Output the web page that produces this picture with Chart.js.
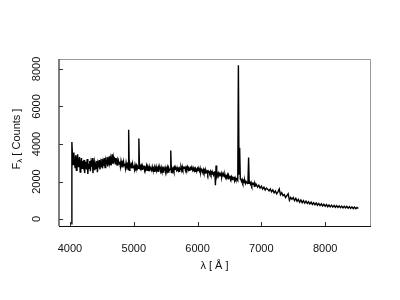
<!DOCTYPE html>
<html>
<head>
<meta charset="utf-8">
<script src="https://cdn.jsdelivr.net/npm/chart.js@4"></script>
<style>
    body { margin: 0; background: #fff; }
    #wrap { width: 400px; height: 300px; }
</style>
</head>
<body>
<div id="wrap"><canvas id="spectrum" width="400" height="300"></canvas></div>
<script>
// Spectrum data (wavelength in Angstrom, flux in counts)
const lambdaValues = [
    4020, 4030, 4040, 4050, 4060, 4070, 4080, 4090, 4100, 4110,
    4120, 4130, 4140, 4150, 4160, 4170, 4180, 4190, 4200, 4210,
    4220, 4230, 4240, 4250, 4260, 4270, 4280, 4290, 4300, 4310,
    4320, 4330, 4340, 4350, 4360, 4370, 4380, 4390, 4400, 4410,
    4420, 4430, 4440, 4450, 4460, 4470, 4480, 4490, 4500, 4510,
    4520, 4530, 4540, 4550, 4560, 4570, 4580, 4590, 4600, 4610,
    4620, 4630, 4640, 4650, 4660, 4670, 4680, 4690, 4700, 4710,
    4720, 4730, 4740, 4750, 4760, 4770, 4780, 4790, 4800, 4810,
    4820, 4830, 4840, 4850, 4860, 4870, 4880, 4890, 4900, 4910,
    4920, 4930, 4940, 4950, 4960, 4970, 4980, 4990, 5000, 5010,
    5020, 5030, 5040, 5050, 5060, 5070, 5080, 5090, 5100, 5110,
    5120, 5130, 5140, 5150, 5160, 5170, 5180, 5190, 5200, 5210,
    5220, 5230, 5240, 5250, 5260, 5270, 5280, 5290, 5300, 5310,
    5320, 5330, 5340, 5350, 5360, 5370, 5380, 5390, 5400, 5410,
    5420, 5430, 5440, 5450, 5460, 5470, 5480, 5490, 5500, 5510,
    5520, 5530, 5540, 5550, 5560, 5570, 5580, 5590, 5600, 5610,
    5620, 5630, 5640, 5650, 5660, 5670, 5680, 5690, 5700, 5710,
    5720, 5730, 5740, 5750, 5760, 5770, 5780, 5790, 5800, 5810,
    5820, 5830, 5840, 5850, 5860, 5870, 5880, 5890, 5900, 5910,
    5920, 5930, 5940, 5950, 5960, 5970, 5980, 5990, 6000, 6010,
    6020, 6030, 6040, 6050, 6060, 6070, 6080, 6090, 6100, 6110,
    6120, 6130, 6140, 6150, 6160, 6170, 6180, 6190, 6200, 6210,
    6220, 6230, 6240, 6250, 6260, 6270, 6280, 6290, 6300, 6310,
    6320, 6330, 6340, 6350, 6360, 6370, 6380, 6390, 6400, 6410,
    6420, 6430, 6440, 6450, 6460, 6470, 6480, 6490, 6500, 6510,
    6520, 6530, 6540, 6550, 6560, 6570, 6580, 6590, 6600, 6610,
    6620, 6630, 6640, 6650, 6660, 6670, 6680, 6690, 6700, 6710,
    6720, 6730, 6740, 6750, 6760, 6770, 6780, 6790, 6800, 6810,
    6820, 6830, 6840, 6850, 6860, 6870, 6880, 6890, 6900, 6910,
    6920, 6940, 6960, 6980, 7000, 7020, 7040, 7060, 7080, 7100,
    7120, 7140, 7160, 7180, 7200, 7220, 7240, 7260, 7280, 7300,
    7320, 7340, 7360, 7380, 7400, 7420, 7440, 7460, 7480, 7500,
    7520, 7540, 7560, 7580, 7600, 7620, 7640, 7660, 7680, 7700,
    7720, 7740, 7760, 7780, 7800, 7820, 7840, 7860, 7880, 7900,
    7920, 7940, 7960, 7980, 8000, 8020, 8040, 8060, 8080, 8100,
    8120, 8140, 8160, 8180, 8200, 8220, 8240, 8260, 8280, 8300,
    8320, 8340, 8360, 8380, 8400, 8420, 8440, 8460, 8480, 8500,
    8520
];

const fluxValues = [
    -250, 4100, 3300, 2900, 3550, 3100, 2750, 3400, 2600, 3200,
    3450, 2800, 3000, 3300, 2500, 2950, 3250, 2700, 3100, 2850,
    3150, 2450, 2900, 3050, 2650, 3200, 2400, 2950, 2700, 3100,
    2550, 3000, 2800, 3250, 2450, 2850, 3050, 2600, 2900, 2700,
    3100, 2500, 2950, 2750, 3150, 2650, 3000, 2800, 3200, 2700,
    3050, 2850, 3250, 2750, 3100, 2950, 3300, 2800, 3150, 3000,
    3350, 2900, 3200, 3050, 3450, 2950, 3300, 3100, 3200, 2950,
    3250, 3000, 3150, 2850, 3100, 2950, 3050, 2800, 3100, 2900,
    3000, 2750, 3050, 2850, 2950, 2700, 3000, 2800, 2900, 2650,
    4760, 2600, 2950, 2800, 2900, 2700, 2950, 2750, 2850, 2650,
    2900, 2750, 2850, 2600, 2800, 2700, 4290, 2650, 2850, 2750,
    2850, 2650, 2800, 2700, 2850, 2600, 2750, 2700, 2850, 2600,
    2750, 2650, 2800, 2550, 2750, 2700, 2600, 2800, 2650, 2700,
    2550, 2750, 2650, 2800, 2600, 2700, 2550, 2750, 2650, 2700,
    2550, 2750, 2600, 2700, 2500, 2700, 2650, 2750, 2550, 2700,
    2600, 2750, 2500, 2700, 2600, 2650, 3650, 2450, 2700, 2600,
    2700, 2550, 2750, 2650, 2700, 2600, 2750, 2650, 2700, 2550,
    2700, 2650, 2750, 2600, 2800, 2650, 2750, 2700, 2800, 2600,
    2750, 2650, 2800, 2700, 2750, 2600, 2700, 2750, 2650, 2700,
    2600, 2750, 2650, 2700, 2550, 2700, 2650, 2600, 2700, 2600,
    2650, 2550, 2700, 2500, 2650, 2600, 2550, 2650, 2500, 2600,
    2450, 2600, 2500, 2550, 2400, 2550, 2500, 2450, 2550, 2400,
    2500, 2400, 2450, 2350, 2500, 2550, 1800, 2850, 2300, 2450,
    2350, 2450, 2300, 2400, 2350, 2450, 2250, 2400, 2300, 2350,
    2250, 2350, 2200, 2300, 2250, 2350, 2150, 2300, 2200, 2250,
    2150, 2250, 2100, 2200, 2150, 2250, 2050, 2200, 2100, 2150,
    2100, 2050, 8200, 2400, 3800, 2150, 2100, 2000, 2100, 1950,
    2050, 1950, 2050, 1900, 2000, 1950, 1900, 2000, 3280, 1900,
    1950, 1850, 1950, 1800, 1900, 1850, 1950, 1750, 1900, 1800,
    1850, 1700, 1800, 1650, 1750, 1600, 1700, 1550, 1650, 1580,
    1500, 1600, 1450, 1550, 1400, 1500, 1350, 1450, 1600, 1300,
    1400, 1250, 1300, 1150, 1250, 1350, 1000, 1150, 1050, 1150,
    980, 1100, 950, 1050, 900, 1020, 870, 980, 850, 960,
    830, 920, 800, 900, 780, 870, 760, 850, 740, 830,
    720, 810, 700, 790, 680, 770, 660, 750, 650, 740,
    640, 730, 630, 710, 620, 700, 610, 690, 600, 680,
    590, 670, 580, 660, 570, 650, 560, 640, 550, 620,
    560
];

const xTicks = [4000, 5000, 6000, 7000, 8000];
const yTicks = [0, 2000, 4000, 6000, 8000];

const FONT = '11px "Liberation Sans", Arial, sans-serif';

// Draw box, inward ticks, labels and titles using the chart's scales
const axesPlugin = {
    id: 'rAxes',
    afterDraw(chart) {
        const ctx = chart.ctx;
        const area = chart.chartArea;
        const xs = chart.scales.x;
        const ys = chart.scales.y;

        ctx.save();
        ctx.lineWidth = 1;

        // frame
        ctx.strokeStyle = '#9a9a9a';
        ctx.beginPath();
        ctx.moveTo(area.left, area.top + 0.5);
        ctx.lineTo(area.right + 0.5, area.top + 0.5);
        ctx.lineTo(area.right + 0.5, area.bottom);
        ctx.stroke();

        ctx.strokeStyle = '#555';
        ctx.lineWidth = 1.5;
        ctx.beginPath();
        ctx.moveTo(area.left, area.top);
        ctx.lineTo(area.left, area.bottom);
        ctx.stroke();

        ctx.strokeStyle = '#111';
        ctx.lineWidth = 1;
        ctx.beginPath();
        ctx.moveTo(area.left, area.bottom + 0.5);
        ctx.lineTo(area.right + 1, area.bottom + 0.5);
        ctx.stroke();

        // ticks (pointing inward)
        ctx.strokeStyle = '#333';
        ctx.beginPath();
        xTicks.forEach(v => {
            const px = Math.round(xs.getPixelForValue(v)) + 0.5;
            ctx.moveTo(px, area.bottom);
            ctx.lineTo(px, area.bottom - 4);
        });
        yTicks.forEach(v => {
            const py = Math.round(ys.getPixelForValue(v)) + 0.5;
            ctx.moveTo(area.left, py);
            ctx.lineTo(area.left + 4, py);
        });
        ctx.stroke();

        // labels
        ctx.fillStyle = '#111';
        ctx.font = FONT;
        ctx.textAlign = 'center';
        ctx.textBaseline = 'middle';
        xTicks.forEach(v => {
            ctx.fillText(String(v), xs.getPixelForValue(v), 249);
        });
        yTicks.forEach(v => {
            ctx.save();
            ctx.translate(37, ys.getPixelForValue(v));
            ctx.rotate(-Math.PI / 2);
            ctx.fillText(String(v), 0, 0);
            ctx.restore();
        });

        // x title
        ctx.fillText('λ [ Å ]', (area.left + area.right) / 2, 266);

        // y title with subscript lambda
        ctx.save();
        ctx.translate(17, 139);
        ctx.rotate(-Math.PI / 2);
        const partF = 'F';
        const partSub = 'λ';
        const partRest = ' [ Counts ]';
        const subFont = '8px "Liberation Sans", Arial, sans-serif';
        ctx.font = FONT;
        const wF = ctx.measureText(partF).width;
        const wRest = ctx.measureText(partRest).width;
        ctx.font = subFont;
        const wSub = ctx.measureText(partSub).width;
        let x0 = -(wF + wSub + wRest) / 2;
        ctx.textAlign = 'left';
        ctx.font = FONT;
        ctx.fillText(partF, x0, 0);
        ctx.font = subFont;
        ctx.fillText(partSub, x0 + wF, 3);
        ctx.font = FONT;
        ctx.fillText(partRest, x0 + wF + wSub, 0);
        ctx.restore();

        ctx.restore();
    }
};

const points = lambdaValues.map((l, i) => ({ x: l, y: fluxValues[i] }));

new Chart(document.getElementById('spectrum'), {
    type: 'line',
    data: {
        datasets: [{
            data: points,
            borderColor: '#000',
            borderWidth: 1.4,
            pointRadius: 0,
            tension: 0,
            fill: false
        }]
    },
    options: {
        responsive: false,
        animation: false,
        layout: {
            padding: { top: 59, right: 30, left: 0, bottom: 0 }
        },
        plugins: {
            legend: { display: false },
            tooltip: { enabled: false }
        },
        scales: {
            x: {
                type: 'linear',
                min: 3828,
                max: 8703,
                grid: { display: false },
                border: { display: false },
                ticks: { display: false },
                afterFit: s => { s.height = 74; }
            },
            y: {
                type: 'linear',
                min: -370,
                max: 8530,
                grid: { display: false },
                border: { display: false },
                ticks: { display: false },
                afterFit: s => { s.width = 59; }
            }
        }
    },
    plugins: [axesPlugin]
});
</script>
</body>
</html>
